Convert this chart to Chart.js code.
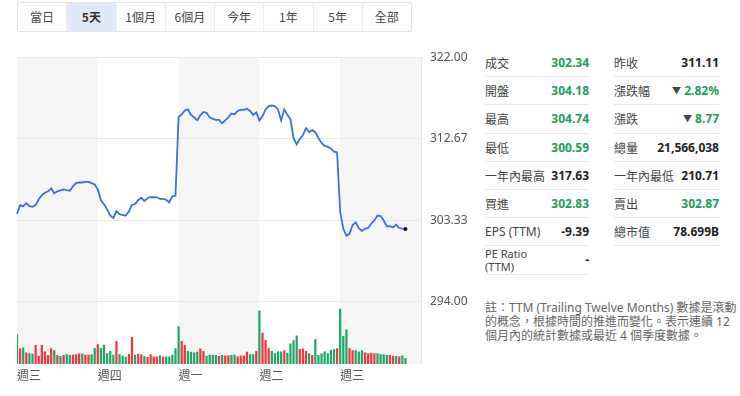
<!DOCTYPE html>
<html>
<head>
<meta charset="utf-8">
<script src="https://cdn.jsdelivr.net/npm/chart.js@4"></script>
<style>
body { margin: 0; width: 740px; height: 396px; overflow: hidden; background: #fff; position: relative;
       font-family: "Noto Sans", "Noto Sans CJK TC", sans-serif; color: #333; }
.tabs { position: absolute; left: 17px; top: 2px; width: 393px; height: 28px; border: 1px solid #e4e4e4;
        border-radius: 2px; display: flex; font-family: "Noto Sans CJK TC", sans-serif; }
.tabs div { flex: 1; text-align: center; line-height: 28px; font-size: 12px; color: #444; border-right: 1px solid #ededed; }
.tabs div:last-child { border-right: none; }
.tabs .on { background: #deeaf9; font-weight: bold; color: #333; }
#wrap { position: absolute; left: 0; top: 50px; width: 475px; height: 346px; }
.col { position: absolute; top: 49px; font-size: 12px; }
.row { height: 28.2px; box-sizing: border-box; border-bottom: 1px solid #e8e8e8; display: flex;
       justify-content: space-between; align-items: center; white-space: nowrap; }
.row span:first-child { font-family: "Noto Sans CJK TC", sans-serif; color: #444; }
.v { font-weight: bold; color: #222; }
.g { color: #1b9e5c; }
.tri { font-size: 9px; vertical-align: 1px; }
.pe { font-size: 11px; line-height: 13px; }
.note { position: absolute; left: 485px; top: 301px; font-size: 12px; line-height: 14.2px; white-space: nowrap;
        color: #666; font-family: "Noto Sans", "Noto Sans CJK TC", sans-serif; }
</style>
</head>
<body>
<div class="tabs">
  <div>當日</div><div class="on">5天</div><div>1個月</div><div>6個月</div><div>今年</div><div>1年</div><div>5年</div><div>全部</div>
</div>
<div id="wrap"><canvas id="priceChart"></canvas></div>

<div class="col" style="left:485px;width:104px">
  <div class="row"><span>成交</span><span class="v g">302.34</span></div>
  <div class="row"><span>開盤</span><span class="v g">304.18</span></div>
  <div class="row"><span>最高</span><span class="v g">304.74</span></div>
  <div class="row"><span>最低</span><span class="v g">300.59</span></div>
  <div class="row"><span>一年內最高</span><span class="v">317.63</span></div>
  <div class="row"><span>買進</span><span class="v g">302.83</span></div>
  <div class="row"><span style="font-family:'Noto Sans'">EPS (TTM)</span><span class="v">-9.39</span></div>
  <div class="row"><span class="pe" style="font-family:'Noto Sans'">PE Ratio<br>(TTM)</span><span class="v">-</span></div>
</div>
<div class="col" style="left:614px;width:105px">
  <div class="row"><span>昨收</span><span class="v">311.11</span></div>
  <div class="row"><span>漲跌幅</span><span class="v g"><span class="tri">▼</span> 2.82%</span></div>
  <div class="row"><span>漲跌</span><span class="v g"><span class="tri">▼</span> 8.77</span></div>
  <div class="row"><span>總量</span><span class="v">21,566,038</span></div>
  <div class="row"><span>一年內最低</span><span class="v">210.71</span></div>
  <div class="row"><span>賣出</span><span class="v g">302.87</span></div>
  <div class="row"><span>總市值</span><span class="v">78.699B</span></div>
</div>
<div class="note">註：TTM (Trailing Twelve Months) 數據是滾動<br>的概念，根據時間的推進而變化。表示連續 12<br>個月內的統計數據或最近 4 個季度數據。</div>

<script>
// 5 trading days, 26 fifteen-minute slots each
const dayNames = ['週三', '週四', '週一', '週二', '週三'];
const slotsPerDay = 26;
const priceTicks = [294, 303.33, 312.67, 322];

const prices = [
    304.05, 305.07, 304.95, 305.29, 304.95, 304.87, 305.07, 305.74, 306.2, 306.48, 306.65, 306.98, 306.42,
    306.65, 306.76, 306.87, 306.79, 306.72, 307.21, 307.6, 307.66, 307.66, 307.72, 307.72, 307.58, 307.44,
    306.87, 305.63, 305.18, 304.56, 303.88, 303.6, 304.39, 304.05, 303.94, 303.88, 304.33, 305.12, 305.18,
    305.63, 305.91, 305.55, 305.86, 305.97, 305.99, 305.97, 305.78, 305.78, 305.69, 305.4, 306.08, 306.14,
    315.15, 315.45, 315.9, 316.02, 315.4, 315.11, 314.77, 315.34, 315.73, 315.64, 315.11, 314.94, 314.83,
    314.83, 314.44, 314.77, 315.11, 315.56, 315.45, 315.85, 315.96, 315.98, 316.11, 315.85, 315.4, 315.68,
    314.77, 315.23, 316.02, 316.41, 316.47, 316.39, 316.02, 314.77, 316.02, 315.4, 314.89, 312.74, 312.03,
    312.63, 313.08, 313.87, 313.42, 313.65, 313.42, 312.74, 312.18, 311.84, 311.73, 311.56, 311.18, 311.11,
    304.3, 302.36, 301.57, 301.79, 302.8, 303.09, 302.41, 302.13, 302.39, 302.47, 302.97, 303.31, 303.88,
    303.82, 303.31, 302.64, 302.66, 302.52, 302.82, 302.45, 302.39, 302.34
];

// volume per slot, thousands of shares
const volumes = [
    1500, 785, 835, 585, 550, 515, 965, 415, 965, 635, 450, 800, 700, 450, 400, 450, 500, 450, 465, 500, 535, 535, 465, 465, 500, 815,
    1000, 815, 975, 540, 665, 465, 1165, 500, 415, 365, 510, 1365, 465, 525, 500, 400, 350, 500, 385, 385, 435, 385, 385, 385, 465, 800,
    1915, 1165, 965, 665, 615, 585, 615, 785, 665, 415, 465, 465, 450, 400, 450, 435, 435, 450, 485, 385, 435, 435, 615, 500, 500, 665,
    2715, 1585, 1215, 800, 665, 550, 650, 635, 700, 565, 1035, 1200, 1450, 765, 785, 665, 550, 450, 1250, 450, 535, 635, 550, 715, 750, 800,
    2800, 1415, 1750, 800, 700, 700, 635, 700, 585, 550, 565, 550, 550, 500, 500, 450, 450, 415, 400, 385, 435, 300
];

// 1 = green bar, 0 = red bar
const volumeUp = [
    1, 0, 1, 0, 1, 1, 0, 0, 0, 0, 0, 0, 1, 0, 1, 0, 1, 1, 0, 0, 0, 1, 0, 0, 1, 1,
    0, 1, 1, 1, 1, 1, 0, 1, 1, 1, 0, 0, 1, 0, 0, 1, 0, 0, 0, 0, 1, 0, 1, 1, 1, 1,
    1, 0, 0, 1, 1, 1, 1, 0, 0, 1, 1, 1, 1, 0, 1, 0, 0, 1, 1, 0, 0, 0, 0, 1, 1, 0,
    1, 0, 0, 0, 1, 1, 1, 1, 0, 1, 1, 1, 1, 0, 0, 0, 1, 0, 1, 1, 1, 1, 1, 1, 1, 0,
    1, 1, 1, 0, 0, 1, 1, 1, 0, 0, 0, 0, 1, 1, 1, 1, 0, 0, 1, 0, 1, 1
];

const labels = [];
dayNames.forEach(function (name) {
    for (let s = 0; s < slotsPerDay; s++) labels.push(s === 0 ? name : '');
});
labels.push('');

const dayBands = {
    id: 'dayBands',
    beforeDraw(chart) {
        const { ctx, chartArea, scales: { x } } = chart;
        ctx.save();
        ctx.fillStyle = '#f5f5f6';
        for (let d = 0; d < dayNames.length; d += 2) {
            const x0 = x.getPixelForValue(d * slotsPerDay);
            const x1 = Math.min(x.getPixelForValue((d + 1) * slotsPerDay), chartArea.right);
            ctx.fillRect(x0, chartArea.top, x1 - x0, chartArea.bottom - chartArea.top);
        }
        ctx.restore();
    }
};

const lastIndex = prices.length - 1;

new Chart(document.getElementById('priceChart'), {
    data: {
        labels: labels,
        datasets: [{
            type: 'line',
            data: prices,
            yAxisID: 'y',
            borderColor: '#3a6fe0',
            borderWidth: 1.8,
            tension: 0,
            pointRadius: ctx => ctx.dataIndex === lastIndex ? 2 : 0,
            pointBackgroundColor: '#111',
            pointBorderWidth: 0,
            order: 0
        }, {
            type: 'bar',
            data: volumes,
            yAxisID: 'yv',
            backgroundColor: volumeUp.map(u => u ? '#1fa865' : '#f0373f'),
            barPercentage: 0.72,
            categoryPercentage: 1,
            order: 1
        }]
    },
    options: {
        responsive: true,
        maintainAspectRatio: false,
        animation: false,
        layout: { padding: { left: 17, top: 0, bottom: 9.6, right: 0 } },
        plugins: { legend: { display: false }, tooltip: { enabled: false } },
        scales: {
            x: {
                type: 'category',
                offset: false,
                grid: { display: false, drawTicks: false },
                border: { display: false },
                ticks: {
                    autoSkip: false,
                    maxRotation: 0,
                    align: 'start',
                    padding: 4,
                    color: '#555',
                    font: { family: '"Noto Sans CJK TC"', size: 12 }
                }
            },
            y: {
                position: 'right',
                stack: 'pv',
                stackWeight: 248,
                min: 294,
                max: 322,
                afterBuildTicks: scale => { scale.ticks = priceTicks.map(v => ({ value: v })); },
                afterFit: scale => { scale.width = 54; },
                grid: { color: '#e9e9e9', drawTicks: true, tickLength: 9, tickColor: 'rgba(0,0,0,0)' },
                border: { color: '#e4e4e4' },
                ticks: {
                    padding: 0,
                    color: '#555',
                    font: { family: '"Noto Sans"', size: 12 },
                    callback: v => Number(v).toFixed(2)
                }
            },
            yv: {
                position: 'right',
                stack: 'pv',
                stackWeight: 63,
                min: 0,
                max: 3150,
                afterFit: scale => { scale.width = 54; },
                grid: { display: false, drawTicks: false },
                border: { color: '#e4e4e4' },
                ticks: { display: false }
            }
        }
    },
    plugins: [dayBands]
});
</script>
</body>
</html>
